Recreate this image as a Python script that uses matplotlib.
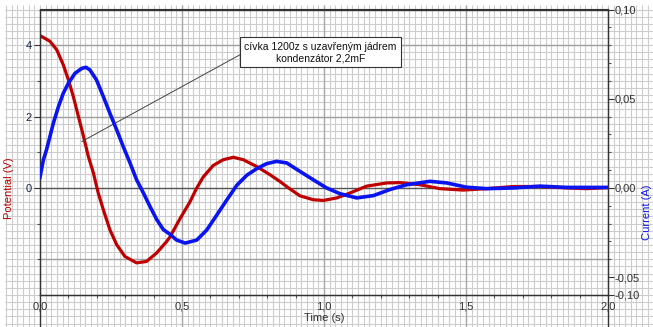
import numpy as np
import matplotlib
matplotlib.use("Agg")
import matplotlib.pyplot as plt

# potential across the capacitor (V)
t_pot = [0, 0.035, 0.059, 0.082, 0.100, 0.117, 0.135, 0.153, 0.170, 0.188, 0.205,
         0.223, 0.246, 0.270, 0.299, 0.340, 0.375, 0.411, 0.446, 0.458, 0.493,
         0.528, 0.552, 0.575, 0.610, 0.645, 0.681, 0.716, 0.763, 0.810, 0.845,
         0.875, 0.915, 0.962, 0.998, 1.045, 1.092, 1.150, 1.221, 1.268, 1.338,
         1.408, 1.490, 1.573, 1.667, 1.761, 1.855, 1.925, 2.0]
potential = [4.27, 4.11, 3.87, 3.45, 3.03, 2.57, 2.01, 1.45, 0.89, 0.42, -0.14,
             -0.61, -1.17, -1.59, -1.92, -2.10, -2.06, -1.82, -1.50, -1.37, -0.86,
             -0.39, 0.0, 0.31, 0.63, 0.79, 0.86, 0.79, 0.60, 0.37, 0.18,
             0.0, -0.22, -0.33, -0.35, -0.28, -0.14, 0.05, 0.14, 0.15, 0.09,
             -0.02, -0.06, -0.02, 0.04, 0.04, 0.0, -0.02, 0.01]

# current through the coil (A)
t_cur = [0, 0.012, 0.023, 0.035, 0.047, 0.065, 0.082, 0.100, 0.123, 0.147, 0.162,
         0.176, 0.199, 0.223, 0.246, 0.270, 0.293, 0.317, 0.340, 0.364, 0.387,
         0.411, 0.434, 0.458, 0.481, 0.511, 0.533, 0.552, 0.587, 0.622, 0.657,
         0.693, 0.728, 0.763, 0.798, 0.833, 0.869, 0.915, 0.962, 1.009, 1.056,
         1.115, 1.174, 1.232, 1.291, 1.373, 1.432, 1.502, 1.573, 1.667, 1.761,
         1.855, 2.0]
current = [0.0060, 0.0158, 0.0214, 0.0288, 0.0363, 0.0456, 0.0531, 0.0587, 0.0642,
           0.0670, 0.0676, 0.0661, 0.0605, 0.0512, 0.0419, 0.0326, 0.0232, 0.0140,
           0.0046, -0.0028, -0.0103, -0.0177, -0.0233, -0.0260, -0.0292, -0.0309,
           -0.0300, -0.0292, -0.0236, -0.0153, -0.0069, 0.0015, 0.0071, 0.0108,
           0.0136, 0.0149, 0.0140, 0.0093, 0.0046, 0.0, -0.0032, -0.0056, -0.0043,
           -0.0009, 0.0018, 0.0037, 0.0028, 0.0004, -0.0004, 0.0, 0.001, 0.0003,
           0.0003]

x_ticks = [0.0, 0.5, 1.0, 1.5, 2.0]
x_labels = ["0,0", "0,5", "1,0", "1,5", "2,0"]
v_ticks = [0, 2, 4]
v_labels = ["0", "2", "4"]
i_ticks = [-0.06, -0.05, 0.0, 0.05, 0.10]
i_labels = ["-0,10", "-0,05", "0,00", "0,05", "0,10"]

note = "cívka 1200z s uzavřeným jádrem\nkondenzátor 2,2mF"

plt.rcParams['font.family'] = ['Liberation Sans', 'DejaVu Sans']

W, H = 653, 327
fig = plt.figure(figsize=(W / 100, H / 100), dpi=100)
ax1 = fig.add_axes([40 / W, 1 - 295 / H, 568 / W, 285.5 / H])
ax1.set_xlim(0, 2)
ax1.set_ylim(-3, 5)

# graph paper grid over the whole figure
inv = ax1.transData.inverted()
(x_lo, y_lo) = inv.transform((5, 0))
(x_hi, y_hi) = inv.transform((W, H - 5))
paper = '#cdcdcd'
xs = np.arange(np.ceil(x_lo / 0.02), np.floor(x_hi / 0.02) + 1) * 0.02
ys = np.arange(np.ceil(y_lo / 0.2), np.floor(y_hi / 0.2) + 1) * 0.2
ax1.vlines(xs, y_lo, y_hi, colors=paper, lw=0.8, clip_on=False, zorder=0)
ax1.hlines(ys, x_lo, x_hi, colors=paper, lw=0.8, clip_on=False, zorder=0)
ax1.vlines([0.5, 1.0, 1.5], y_lo, y_hi, colors='#a8a8a8', lw=1.0, clip_on=False, zorder=0.5)
ax1.vlines([0.0, 2.0], y_lo, -3, colors='#333333', lw=1.0, clip_on=False, zorder=0.5)
ax1.hlines([4, 2, -2], 0, 2, colors='#a0a0a0', lw=1.0, zorder=0.5)
ax1.axhline(0, color='#555555', lw=1.0, zorder=0.6)

ax1.plot(t_pot, potential, color='#c00000', lw=2.3, solid_joinstyle='round', zorder=3)

ax1.set_xticks(x_ticks)
ax1.set_xticklabels(x_labels)
ax1.set_xticks(np.arange(0, 2.01, 0.1), minor=True)
ax1.set_yticks(v_ticks)
ax1.set_yticklabels(v_labels)
ax1.set_yticks([-2, -1, 1, 3], minor=True)
ax1.tick_params(axis='both', which='major', labelsize=8, colors='#333333', length=4,
                width=0.8, pad=2)
ax1.tick_params(axis='both', which='minor', length=2.5, width=0.8, colors='#555555')
ax1.tick_params(axis='y', labelcolor='#1c2440')
ax1.tick_params(axis='x', length=0, pad=5)
for s in ax1.spines.values():
    s.set_color('#333333')
    s.set_linewidth(1.0)

ax1.set_xlabel("Time (s)", fontsize=8, color='#333333', labelpad=1)
ax1.set_ylabel("Potential (V)", fontsize=8, color='#c00000')
ax1.yaxis.set_label_coords(-0.046, 0.375)

ax2 = ax1.twinx()
ax2.set_ylim(-0.06, 0.10)
ax2.plot(t_cur, current, color='#0a14f0', lw=2.6, solid_joinstyle='round', zorder=3)
ax2.set_yticks(i_ticks)
ax2.set_yticklabels(i_labels)
ax2.set_yticks(np.arange(-0.06, 0.1001, 0.01), minor=True)
ax2.tick_params(axis='y', which='major', labelsize=8, colors='#333333', length=4,
                width=0.8, pad=1)
ax2.tick_params(axis='y', which='minor', length=2.5, width=0.8, colors='#555555')
for s in ax2.spines.values():
    s.set_color('#333333')

fig.text(652 / W, 1 - 212 / H, "Current (A)", rotation=90, ha='right', va='center',
         fontsize=8, color='#0a14f0')

ax1.annotate(note, xy=(0.147, 1.30), xytext=(0.988, 3.80), fontsize=7.5,
             ha='center', va='center', color='#111111', zorder=5,
             bbox=dict(boxstyle='square,pad=0.4', fc='white', ec='#333333', lw=0.8),
             arrowprops=dict(arrowstyle='-', color='#444444', lw=0.7,
                             relpos=(0, 0.5), shrinkA=0, shrinkB=0))

fig.savefig("out.png", dpi=100)
